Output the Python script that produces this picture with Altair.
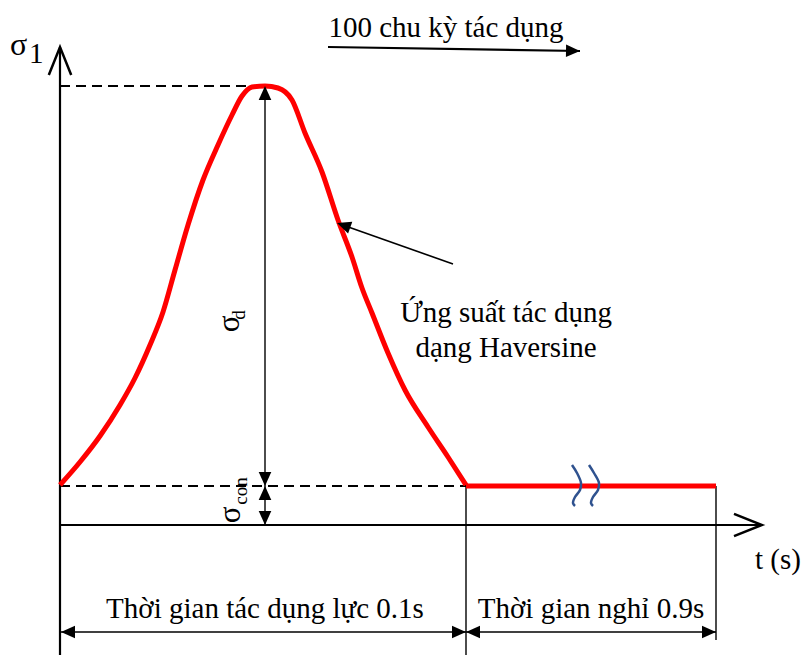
import altair as alt
import pandas as pd

W, H = 810, 655
SERIF = "Times New Roman, Liberation Serif, DejaVu Serif, serif"

# Haversine load pulse, drawn in diagram units (x: time axis, y: stress axis, y grows downward)
pulse_x = [60, 80, 100, 120, 135, 150, 163, 175, 188, 203, 218, 232, 242, 252, 265,
           278, 292, 305, 322, 338, 352, 362, 372, 388, 405, 428, 448, 466]
pulse_y = [485, 462, 436, 405, 378, 345, 312, 270, 225, 180, 145, 115, 96, 87, 86,
           88, 100, 133, 172, 220, 257, 288, 313, 353, 390, 427, 457, 485]
# rest period at the confining stress
rest_x = [466, 716]
rest_y = [486, 486]

# axis-break marks on the rest period
break_x1 = [572, 577, 581, 580, 575, 573, 575]
break_x2 = [589, 594, 599, 598, 593, 591, 593]
break_y = [465, 473, 483, 490, 497, 503, 506]

# solid black segments: axes, extension lines, dimension lines
solid_x1 = [60, 60, 466, 716, 265, 265, 61, 466, 453, 328]
solid_y1 = [47, 525, 486, 486, 86, 486, 632, 632, 264, 47]
solid_x2 = [60, 762, 466, 716, 265, 265, 466, 716, 337, 580]
solid_y2 = [655, 525, 655, 640, 486, 525, 632, 632, 223, 51]
solid_w = [2.2, 2.2, 1.4, 1.4, 1.4, 1.4, 1.6, 1.6, 1.6, 2.2]

# dashed guide lines for peak stress and confining stress
dash_x1 = [60, 60]
dash_x2 = [265, 466]
dash_y = [86, 486]

# filled arrow heads (tip position, direction in degrees clockwise from up)
head_x = [265, 265, 265, 265, 61, 466, 466, 716, 337, 580]
head_y = [86, 486, 486, 525, 632, 632, 632, 632, 223, 51]
head_angle = [0, 180, 0, 180, 270, 90, 270, 90, 289.5, 90.9]

# open arrow heads at the axis ends
axis_head_x = [60, 762]
axis_head_y = [47, 525]
axis_head_angle = [0, 90]

# labels
label_text = ["100 chu kỳ tác dụng", "Ứng suất tác dụng", "dạng Haversine",
              "Thời gian tác dụng lực 0.1s", "Thời gian nghỉ 0.9s", "t (s)"]
label_x = [446, 506, 506, 265, 591, 778]
label_y = [37, 322, 357, 618, 618, 569]

xs = alt.Scale(domain=[0, W], range=[0, W])
ys = alt.Scale(domain=[0, H], range=[0, H])


def X(f="x"):
    return alt.X(f"{f}:Q", scale=xs, axis=None)


def Y(f="y"):
    return alt.Y(f"{f}:Q", scale=ys, axis=None)


pulse = pd.DataFrame({"x": pulse_x, "y": pulse_y})
rest = pd.DataFrame({"x": rest_x, "y": rest_y})
brk = pd.DataFrame({
    "x": break_x1 + break_x2,
    "y": break_y + break_y,
    "k": ["a"] * len(break_y) + ["b"] * len(break_y),
    "o": list(range(len(break_y))) * 2,
})
solid = pd.DataFrame({"x": solid_x1, "y": solid_y1, "x2": solid_x2, "y2": solid_y2, "w": solid_w})
dashed = pd.DataFrame({"x": dash_x1, "x2": dash_x2, "y": dash_y})
heads = pd.DataFrame({"x": head_x, "y": head_y, "a": head_angle})
axis_heads = pd.DataFrame({"x": axis_head_x, "y": axis_head_y, "a": axis_head_angle})
labels = pd.DataFrame({"t": label_text, "x": label_x, "y": label_y})

solid_layer = alt.Chart(solid).mark_rule(color="black").encode(
    x=X(), y=Y(), x2="x2:Q", y2="y2:Q",
    strokeWidth=alt.StrokeWidth("w:Q", scale=None),
)
dashed_layer = alt.Chart(dashed).mark_rule(color="black", strokeWidth=2, strokeDash=[10, 6]).encode(
    x=X(), x2="x2:Q", y=Y(),
)
pulse_layer = alt.Chart(pulse).mark_line(color="#ff0000", strokeWidth=5, interpolate="monotone").encode(
    x=X(), y=Y(), order="x:Q",
)
rest_layer = alt.Chart(rest).mark_line(color="#ff0000", strokeWidth=5).encode(x=X(), y=Y())
break_layer = alt.Chart(brk).mark_line(color="#2f528f", strokeWidth=2.5, interpolate="catmull-rom").encode(
    x=X(), y=Y(), detail="k:N", order="o:Q",
)
head_layer = alt.Chart(heads).mark_point(
    shape="M0,0 L-0.45,1 L0.45,1 Z", filled=True, color="black", size=784, opacity=1,
).encode(x=X(), y=Y(), angle=alt.Angle("a:Q", scale=None))
axis_head_layer = alt.Chart(axis_heads).mark_point(
    shape="M-0.4,1 L0,0 L0.4,1", filled=False, color="black", strokeWidth=2.5, size=3136, opacity=1,
).encode(x=X(), y=Y(), angle=alt.Angle("a:Q", scale=None))
label_layer = alt.Chart(labels).mark_text(
    font=SERIF, fontSize=29, align="center", baseline="alphabetic", color="black",
).encode(x=X(), y=Y(), text="t:N")

# σ symbols: main letter plus subscript
sig = pd.DataFrame({"t": ["σ"], "x": [10], "y": [55]})
sig_sub = pd.DataFrame({"t": ["1"], "x": [29], "y": [63]})
sigma1 = alt.Chart(sig).mark_text(font=SERIF, fontSize=32, align="left", baseline="alphabetic").encode(
    x=X(), y=Y(), text="t:N")
sigma1_sub = alt.Chart(sig_sub).mark_text(font=SERIF, fontSize=29, align="left", baseline="alphabetic").encode(
    x=X(), y=Y(), text="t:N")

rot = pd.DataFrame({"t": ["σ", "σ"], "x": [239, 240], "y": [324, 515]})
rot_sub = pd.DataFrame({"t": ["d", "con"], "x": [245, 247], "y": [315, 491]})
rot_main = alt.Chart(rot).mark_text(font=SERIF, fontSize=31, angle=270, align="center",
                                    baseline="alphabetic").encode(x=X(), y=Y(), text="t:N")
rot_small = alt.Chart(rot_sub).mark_text(font=SERIF, fontSize=19, angle=270, align="center",
                                         baseline="alphabetic").encode(x=X(), y=Y(), text="t:N")

chart = alt.layer(
    dashed_layer, solid_layer, rest_layer, pulse_layer, break_layer,
    head_layer, axis_head_layer, label_layer, sigma1, sigma1_sub, rot_main, rot_small,
).properties(width=W, height=H, padding=0, autosize="none").configure_view(stroke=None)

chart.save("out.html", embed_options={"renderer": "svg", "actions": False})
